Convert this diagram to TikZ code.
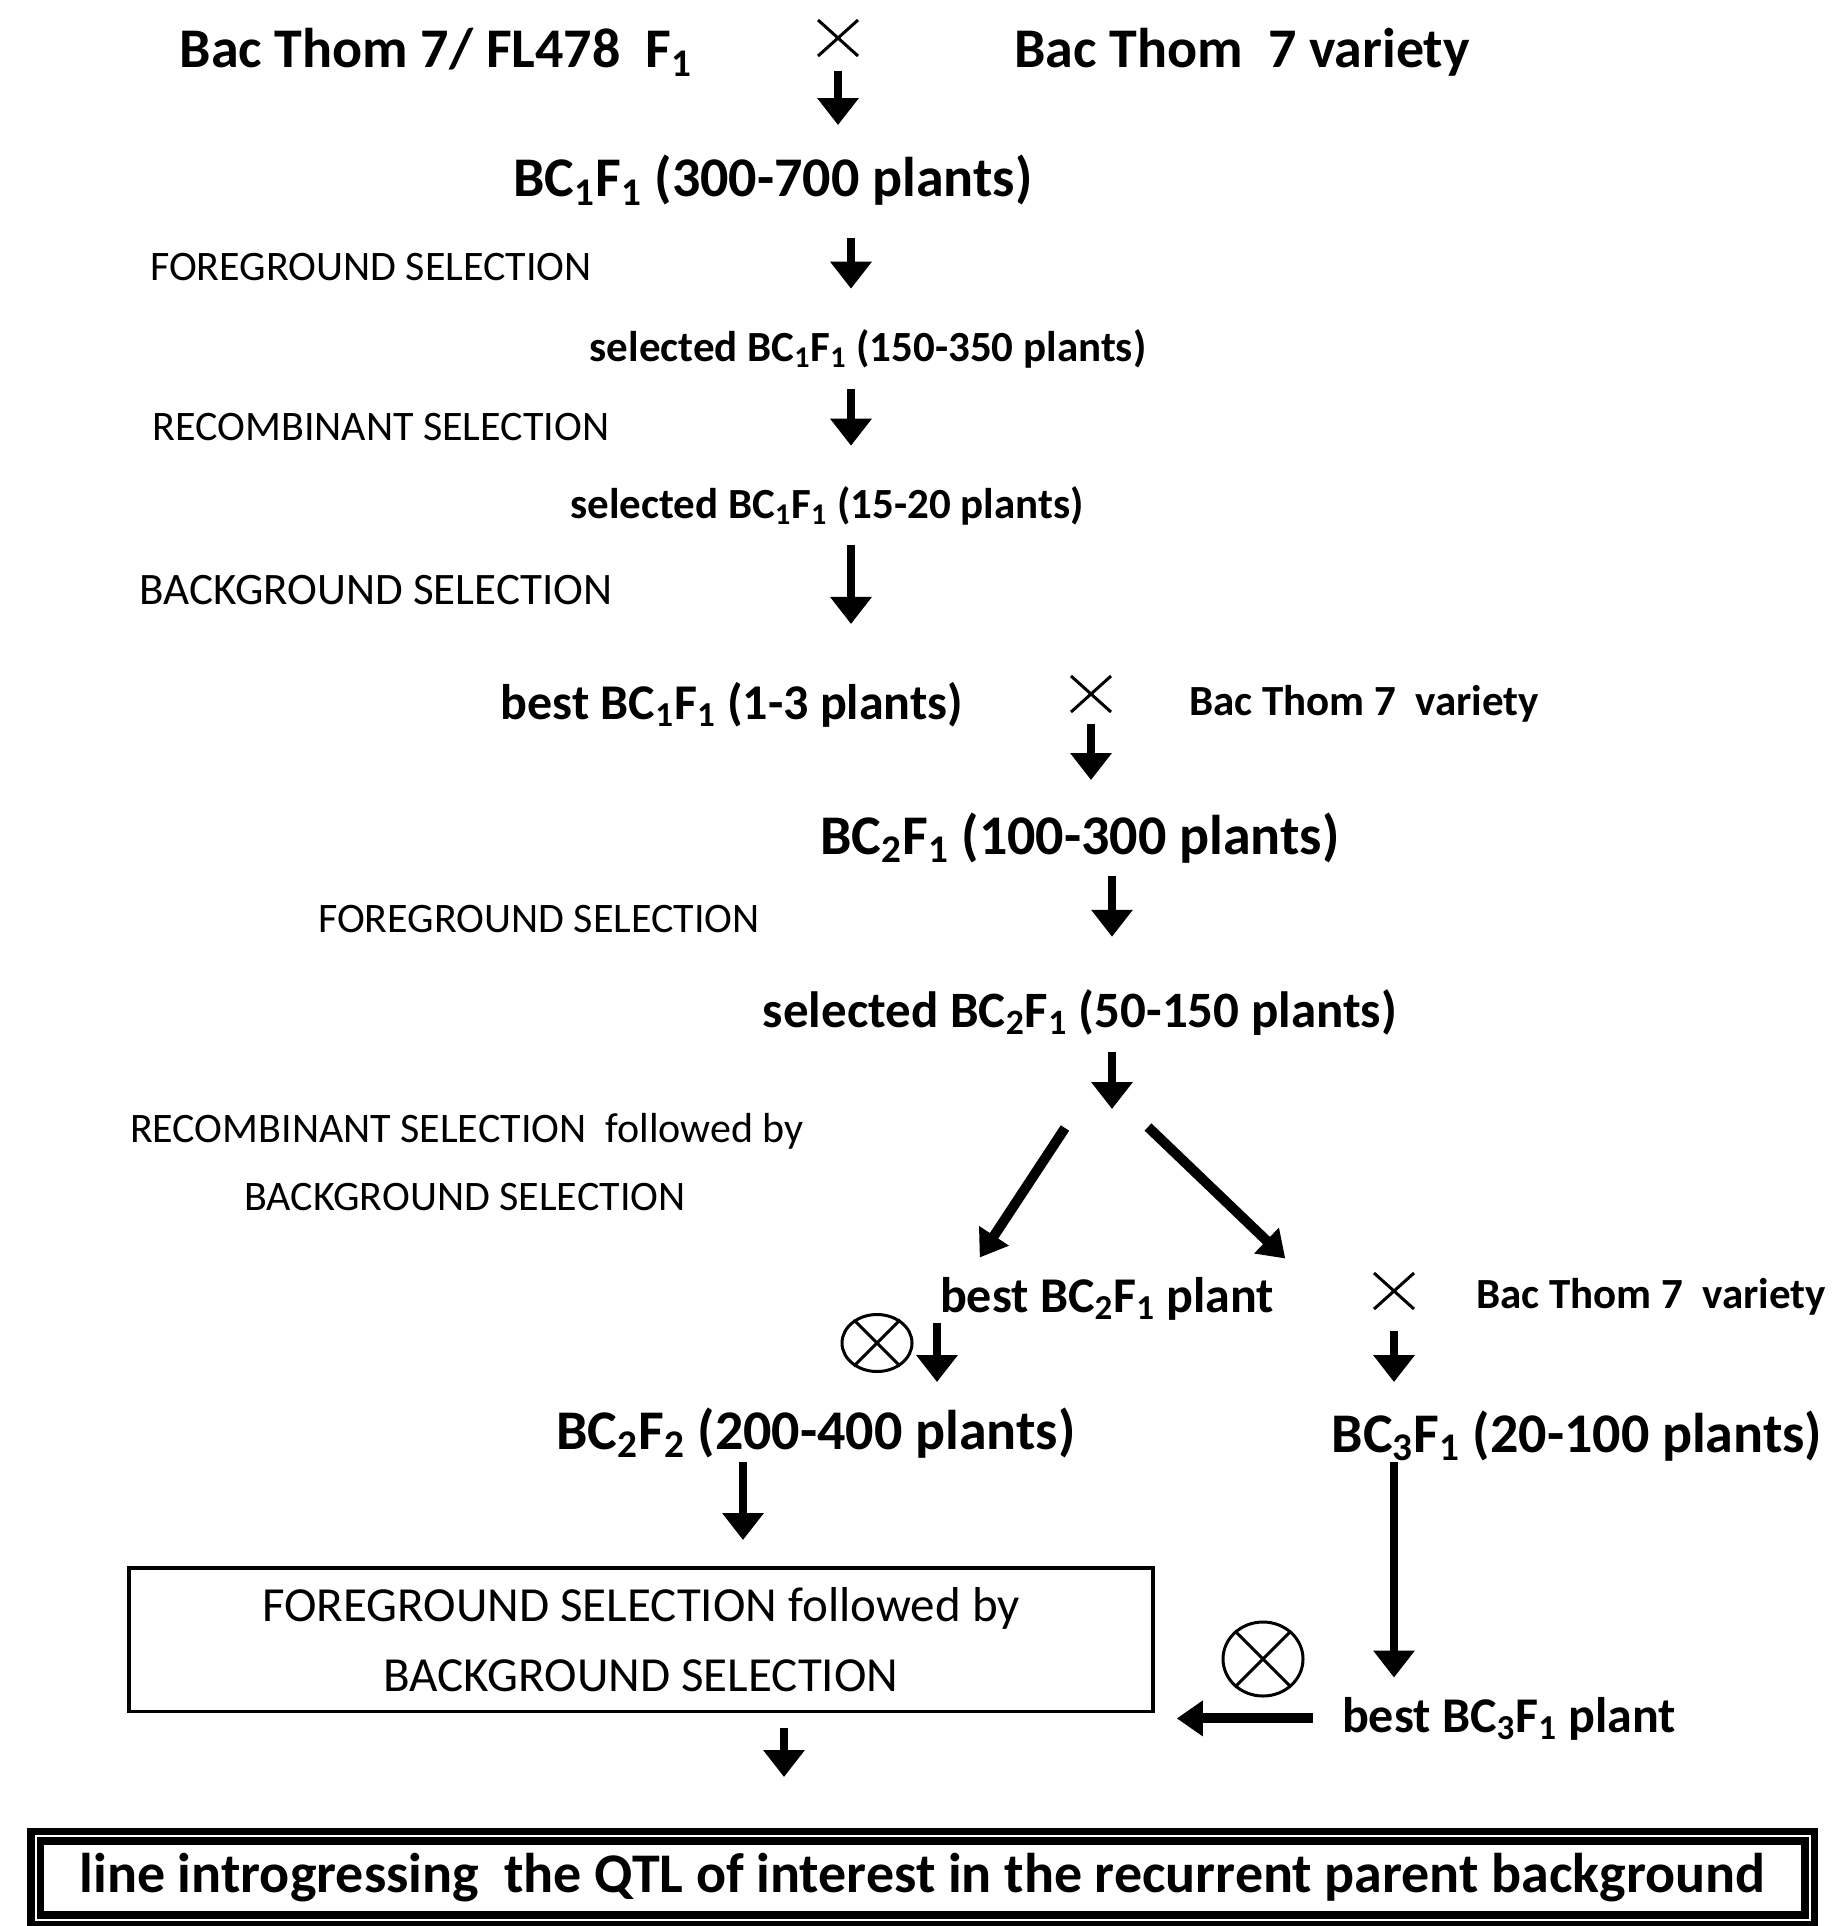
\documentclass[tikz,border=0pt]{standalone}
\usepackage{fontspec}
\setmainfont{Carlito}
\usetikzlibrary{arrows.meta,shapes.misc,shapes.geometric}

\tikzset{
  gen/.style={inner sep=0pt,anchor=base,font=\bfseries\fontsize{28}{30}\selectfont},
  gensel/.style={gen,font=\bfseries\fontsize{21.5}{24}\selectfont},
  genbest/.style={gen,font=\bfseries\fontsize{25}{28}\selectfont},
  seltext/.style={inner sep=0pt,anchor=base,font=\fontsize{21}{24}\selectfont},
  cross/.style={cross out,draw,line width=1.5pt,minimum width=18.5pt,minimum height=16.5pt,inner sep=0pt},
  selfing/.style={ellipse,draw,line width=1.5pt,inner sep=0pt},
  flow/.style={-{Triangle[length=13.5pt,width=20pt]},line width=3.75pt},
  bigflow/.style={-{Triangle[length=13pt,width=17pt]},line width=5pt},
  gap/.style 2 args={shorten <=#1,shorten >=#2}
}

\begin{document}
\begin{tikzpicture}[x=0.5pt,y=-0.5pt]
  \useasboundingbox (0,0) rectangle (1835,1926);

  % first cross
  \node[gen] (f1) at (436,68) {Bac Thom 7/ FL478~~F\textsubscript{1}};
  \node[cross] (x1) at (838,38) {};
  \node[gen] (rp1) at (1242,68) {Bac Thom~~7 variety};
  \node[gen] (bc1) at (773,197) {BC\textsubscript{1}F\textsubscript{1} (300-700 plants)};

  % BC1 selection steps
  \coordinate (lane1) at (851,0);
  \node[seltext] (fg1) at (371,280) {FOREGROUND SELECTION};
  \node[gensel] (sel1) at (868,361) {selected BC\textsubscript{1}F\textsubscript{1} (150-350 plants)};
  \node[seltext] (rs1) at (381,440) {RECOMBINANT SELECTION};
  \node[gensel] (sel2) at (827,518) {selected BC\textsubscript{1}F\textsubscript{1} (15-20 plants)};
  \node[seltext,font=\fontsize{22.5}{26}\selectfont] (bg1) at (376,604) {BACKGROUND SELECTION};
  \node[genbest] (best1) at (732,719) {best BC\textsubscript{1}F\textsubscript{1} (1-3 plants)};

  % second cross
  \node[cross] (x2) at (1091,694) {};
  \node[gensel] (rp2) at (1364,715) {Bac Thom 7~~variety};
  \node[gen] (bc2) at (1080,854) {BC\textsubscript{2}F\textsubscript{1} (100-300 plants)};
  \node[seltext] (fg2) at (539,932) {FOREGROUND SELECTION};
  \node[gen,font=\bfseries\fontsize{25.5}{28}\selectfont] (sel3) at (1080,1027) {selected BC\textsubscript{2}F\textsubscript{1} (50-150 plants)};
  \coordinate (fork) at (1112,1109);
  \node[seltext] (rs2) at (467,1142) {RECOMBINANT SELECTION~~followed by};
  \node[seltext] (bg2) at (465,1210) {BACKGROUND SELECTION};
  \node[genbest] (best2) at (1107,1312) {best BC\textsubscript{2}F\textsubscript{1} plant};

  % selfing and third cross
  \node[selfing,minimum width=35pt,minimum height=28.5pt] (self1) at (877,1343) {};
  \draw[line width=1.5pt] (self1.45) -- (self1.225) (self1.135) -- (self1.-45);
  \coordinate (lane2) at (937,0);
  \node[cross] (x3) at (1394,1291) {};
  \node[gensel] (rp3) at (1651,1308) {Bac Thom 7~~variety};
  \node[gen] (bc22) at (816,1449) {BC\textsubscript{2}F\textsubscript{2} (200-400 plants)};
  \node[gen] (bc3) at (1577,1452) {BC\textsubscript{3}F\textsubscript{1} (20-100 plants)};

  \coordinate (lane3) at (743,0);
  \node[draw,line width=1.75pt,minimum width=512pt,minimum height=71.75pt,inner sep=0pt,align=center,
    font=\fontsize{24.5}{35}\selectfont] (fbsel) at (641,1639.5) {FOREGROUND SELECTION followed by\\BACKGROUND SELECTION};
  \node[selfing,minimum width=40pt,minimum height=37pt] (self2) at (1263,1659) {};
  \draw[line width=1.5pt] (self2.45) -- (self2.225) (self2.135) -- (self2.-45);
  \node[genbest] (best3) at (1509,1732) {best BC\textsubscript{3}F\textsubscript{1} plant};

  % final line
  \coordinate (lane4) at (784,0);
  \node[draw,double,line width=3.75pt,double distance=1pt,minimum width=887pt,minimum height=41.75pt,inner sep=0pt,
    font=\bfseries\fontsize{28}{30}\selectfont] (line) at (922.5,1878) {line introgressing~ the QTL of interest in the recurrent parent background};

  % arrows
  \draw[flow,gap={7.75pt}{15pt}] (x1.south) -- (x1.south |- bc1.north);
  \draw[flow,gap={16pt}{20pt}] (bc1.south -| lane1) -- (sel1.north -| lane1);
  \draw[flow,gap={10.5pt}{20pt}] (sel1.south -| lane1) -- (sel2.north -| lane1);
  \draw[flow,gap={10pt}{28.75pt}] (sel2.south -| lane1) -- (best1.north -| lane1);
  \draw[flow,gap={5.75pt}{16pt}] (x2.south) -- (x2.south |- bc2.north);
  \draw[flow,gap={6.5pt}{26pt}] (bc2.south -| fork) -- (sel3.north -| fork);
  \draw[flow,gap={8.5pt}{0pt}] (sel3.south -| fork) -- (fork);
  \draw[bigflow] ([shift={(-47,19)}]fork) -- ([shift={(40,-19)}]best2.north west);
  \draw[bigflow] ([shift={(36,18)}]fork) -- ([shift={(11,-18)}]best2.north east);
  \draw[flow,gap={1.5pt}{12.5pt}] (best2.south -| lane2) -- (bc22.north -| lane2);
  \draw[flow,gap={10.75pt}{14pt}] (x3.south) -- (x3.south |- bc3.north);
  \draw[flow,gap={2pt}{13pt}] (bc22.south -| lane3) -- (fbsel.north -| lane3);
  \draw[flow,gap={0.5pt}{9.5pt}] (bc3.south -| x3) -- (best3.north -| x3);
  \draw[bigflow,gap={14.5pt}{11pt}] (best3.west) -- (best3.west -| fbsel.east);
  \draw[flow,gap={7.5pt}{27.75pt}] (fbsel.south -| lane4) -- (line.north -| lane4);
\end{tikzpicture}
\end{document}
